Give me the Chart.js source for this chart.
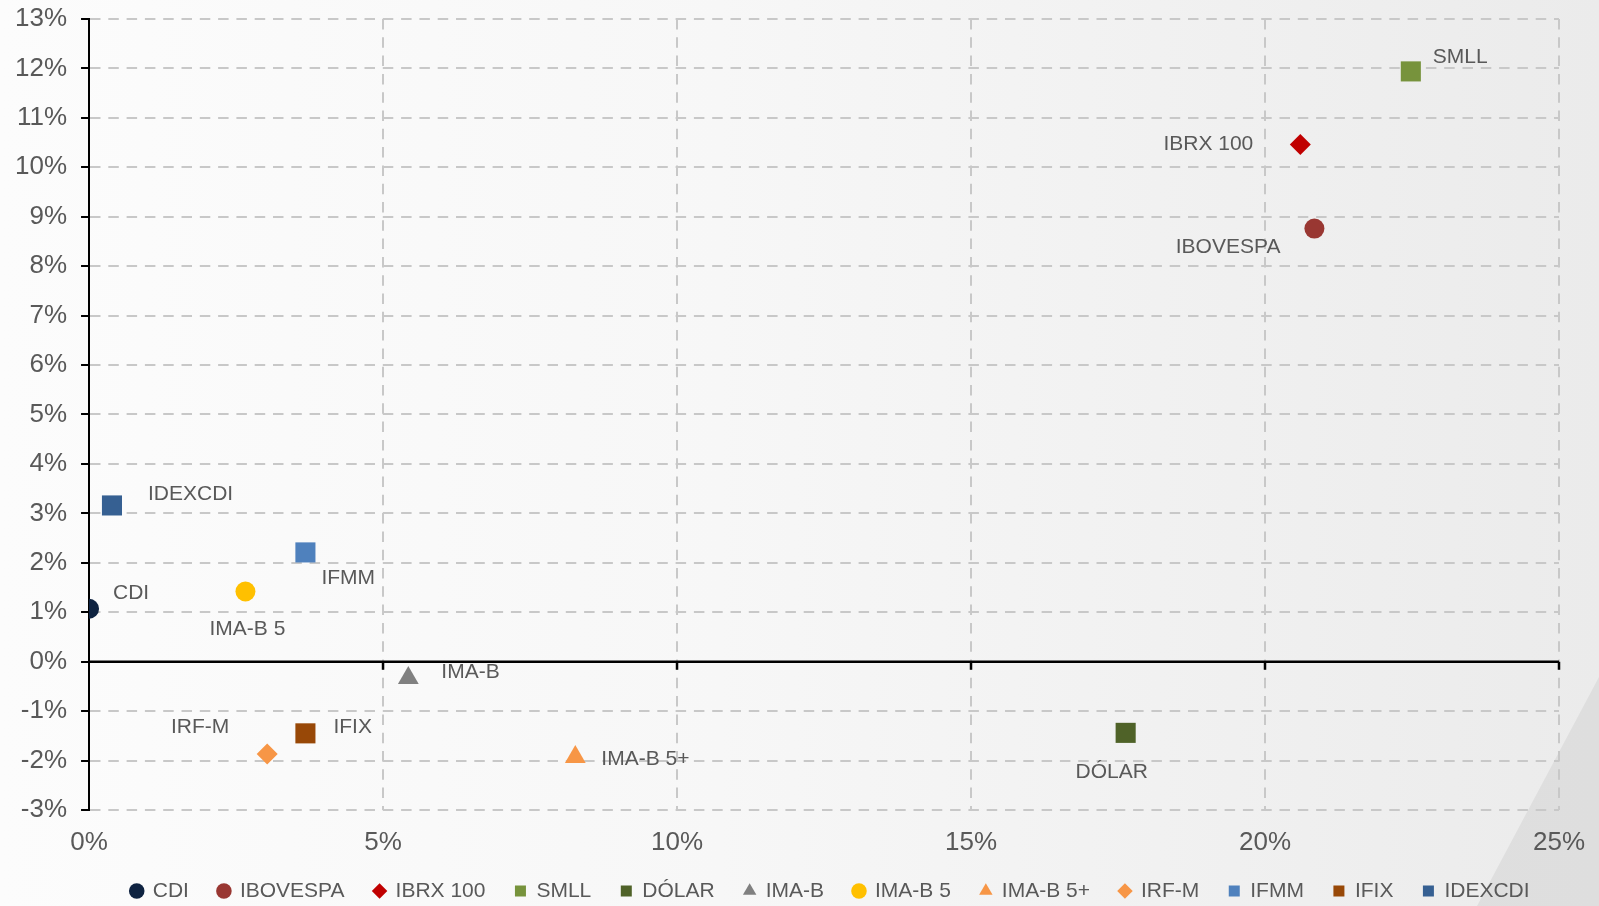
<!DOCTYPE html>
<html>
<head>
<meta charset="utf-8">
<script src="https://cdn.jsdelivr.net/npm/chart.js@4.4.1/dist/chart.umd.min.js"></script>
<style>
html, body { margin: 0; padding: 0; }
body {
  width: 1599px; height: 906px; overflow: hidden; position: relative;
  background: linear-gradient(90deg, #fcfcfc 0%, #f7f7f7 45%, #ebebeb 100%);
}
#shade {
  position: absolute; left: 0; top: 0; width: 1599px; height: 906px;
  background: linear-gradient(90deg, #e6e6e6, #dedede);
  clip-path: polygon(1599px 677px, 1599px 906px, 1477px 906px);
}
#wrap { position: absolute; left: 0; top: 0; width: 1599px; height: 906px; }
</style>
</head>
<body>
<div id="shade"></div>
<div id="wrap"><canvas id="c" width="1599" height="906"></canvas></div>
<script>
// ---- data ----
const seriesNames = ['CDI', 'IBOVESPA', 'IBRX 100', 'SMLL', 'DÓLAR', 'IMA-B', 'IMA-B 5', 'IMA-B 5+', 'IRF-M', 'IFMM', 'IFIX', 'IDEXCDI'];
const volatility = [0.00, 20.84, 20.60, 22.48, 17.63, 5.43, 2.66, 8.27, 3.03, 3.68, 3.68, 0.39];   // x, %
const returns    = [1.07, 8.76, 10.46, 11.94, -1.44, -0.33, 1.42, -1.93, -1.87, 2.21, -1.45, 3.16]; // y, %
const xTickValues = [0, 5, 10, 15, 20, 25];
const yTickValues = [-3, -2, -1, 0, 1, 2, 3, 4, 5, 6, 7, 8, 9, 10, 11, 12, 13];

// ---- styles ----
const seriesColors = ['#0f2341', '#993732', '#c00000', '#77933c', '#4f6228', '#808080', '#ffc000', '#f79646', '#f79646', '#4f81bd', '#984807', '#366092'];
const seriesShapes = ['circle', 'circle', 'rectRot', 'rect', 'rect', 'triangle', 'circle', 'triangle', 'rectRot', 'rect', 'rect', 'rect'];
const shapeRadius = { circle: 10, rect: 14.2, rectRot: 10.5, triangle: 12 };
const labelPlacement = [
  [24, -16, 'left'], [-34, 19, 'right'], [-47, 0, 'right'], [22, -14, 'left'],
  [-14, 39, 'center'], [33, -6, 'left'], [2, 38, 'center'], [26, 2, 'left'],
  [-67, -27, 'center'], [16, 26, 'left'], [28, -6, 'left'], [36, -11, 'left']
];
const FONT = '"Liberation Sans", Arial, sans-serif';
const TEXT = '#595959';
const GRID = '#c8c8c8';

Chart.defaults.font.family = FONT;
Chart.defaults.color = TEXT;

const datasets = seriesNames.map((name, i) => ({
  label: name,
  data: [{ x: volatility[i], y: returns[i] }],
  backgroundColor: seriesColors[i],
  borderColor: seriesColors[i],
  borderWidth: 0,
  pointStyle: seriesShapes[i],
  pointRadius: shapeRadius[seriesShapes[i]],
  pointHoverRadius: shapeRadius[seriesShapes[i]]
}));

const zeroLinePlugin = {
  id: 'zeroLine',
  beforeDatasetsDraw(chart) {
    const { ctx, chartArea, scales } = chart;
    const y0 = scales.y.getPixelForValue(0);
    ctx.save();
    ctx.strokeStyle = '#000';
    ctx.lineWidth = 2.5;
    ctx.beginPath();
    ctx.moveTo(chartArea.left, y0);
    ctx.lineTo(chartArea.right, y0);
    scales.x.ticks.forEach(t => {
      if (t.value === 0) return;
      const px = scales.x.getPixelForValue(t.value);
      ctx.moveTo(px, y0);
      ctx.lineTo(px, y0 + 8);
    });
    ctx.stroke();
    ctx.restore();
  }
};

const pointLabelPlugin = {
  id: 'pointLabels',
  afterDatasetsDraw(chart) {
    const ctx = chart.ctx;
    ctx.save();
    ctx.font = '21px ' + FONT;
    ctx.fillStyle = TEXT;
    ctx.textBaseline = 'middle';
    chart.data.datasets.forEach((ds, i) => {
      const el = chart.getDatasetMeta(i).data[0];
      const [dx, dy, align] = labelPlacement[i];
      ctx.textAlign = align;
      ctx.fillText(ds.label, el.x + dx, el.y + dy);
    });
    ctx.restore();
  }
};

const legendLayoutPlugin = {
  id: 'legendLayout',
  beforeInit(chart) {
    const origFit = chart.legend.fit;
    chart.legend.fit = function () {
      origFit.call(this);
      this.height = 30;
    };
  },
  afterLayout(chart) {
    const lg = chart.legend, ca = chart.chartArea;
    const shift = (ca.left + ca.right) / 2 + 6.4 - (lg.left + lg.right) / 2;
    lg.left += shift;
    lg.right += shift;
    lg.top = ca.bottom + 41;
    lg.bottom = chart.height;
  }
};

new Chart(document.getElementById('c'), {
  type: 'scatter',
  data: { datasets },
  options: {
    responsive: false,
    animation: false,
    events: [],
    layout: { autoPadding: false, padding: { left: 1, right: 40, top: 19, bottom: 0 } },
    scales: {
      x: {
        type: 'linear',
        min: 0, max: 25,
        afterBuildTicks: s => { s.ticks = xTickValues.map(v => ({ value: v })); },
        ticks: {
          callback: v => v + '%',
          font: { size: 26, lineHeight: 1.77 },
          color: TEXT,
          padding: 10,
          maxRotation: 0
        },
        grid: {
          color: c => (c.tick && c.tick.value === 0) ? 'rgba(0,0,0,0)' : GRID,
          lineWidth: 2,
          drawTicks: false
        },
        border: { display: false, dash: [10.5, 7.8] }
      },
      y: {
        type: 'linear',
        min: -3, max: 13,
        afterBuildTicks: s => { s.ticks = yTickValues.map(v => ({ value: v })); },
        ticks: {
          callback: v => v + '%',
          font: { size: 26, lineHeight: 0.3 },
          color: TEXT,
          padding: 14
        },
        grid: {
          color: c => (c.tick && c.tick.value === 0) ? 'rgba(0,0,0,0)' : GRID,
          lineWidth: 2,
          drawTicks: true,
          tickLength: 8,
          tickColor: '#000',
          tickWidth: 2
        },
        border: { display: true, color: '#000', width: 2, dash: [10.5, 7.8] }
      }
    },
    plugins: {
      tooltip: { enabled: false },
      legend: {
        position: 'bottom',
        align: 'center',
        labels: {
          usePointStyle: true,
          boxWidth: 11,
          boxHeight: 11,
          padding: 29.5,
          color: TEXT,
          font: { size: 21 }
        }
      }
    }
  },
  plugins: [legendLayoutPlugin, zeroLinePlugin, pointLabelPlugin]
});
</script>
</body>
</html>
